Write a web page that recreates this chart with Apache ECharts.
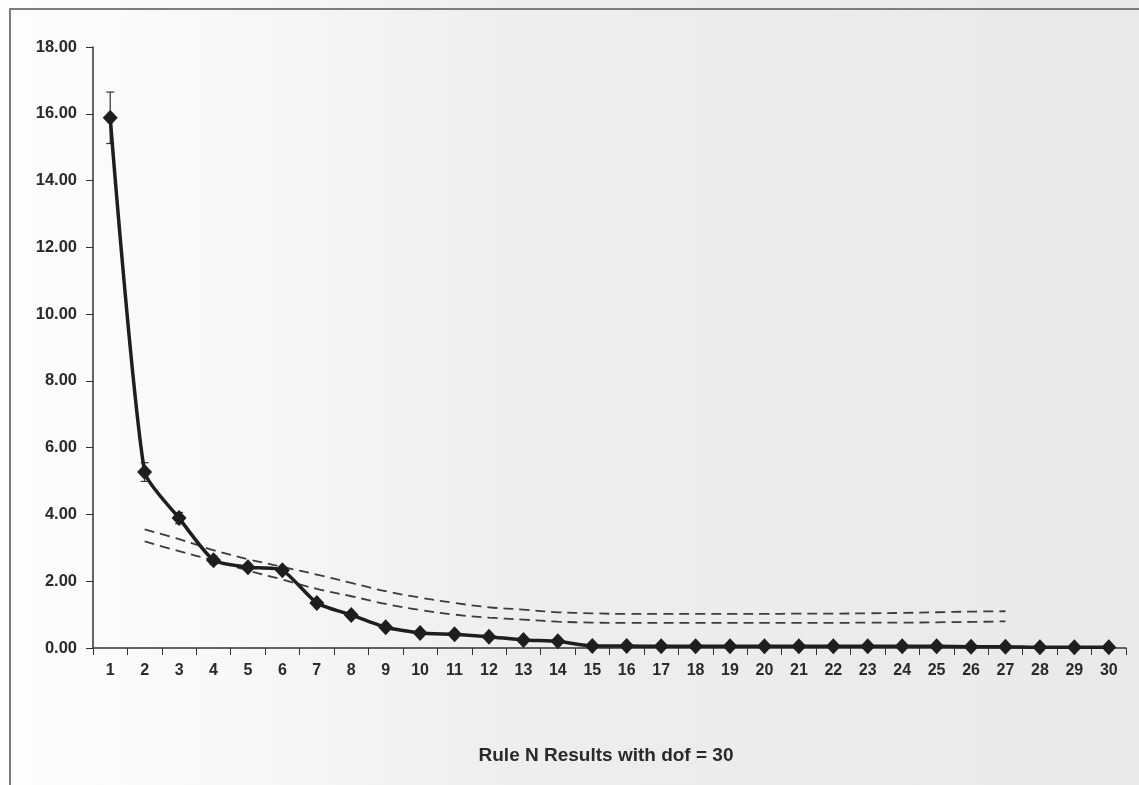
<!DOCTYPE html>
<html>
<head>
<meta charset="utf-8">
<script src="https://cdn.jsdelivr.net/npm/echarts@6/dist/echarts.min.js"></script>
<style>
html,body{margin:0;padding:0;background:#f2f2f2;}
#chart{width:1139px;height:785px;}
</style>
</head>
<body>
<div id="chart"></div>
<script>
// Data
const categories = ['1','2','3','4','5','6','7','8','9','10','11','12','13','14','15','16','17','18','19','20','21','22','23','24','25','26','27','28','29','30'];
const eigenValues = [15.88, 5.27, 3.89, 2.63, 2.42, 2.33, 1.35, 0.99, 0.62, 0.45, 0.41, 0.34, 0.24, 0.2, 0.06, 0.06, 0.05, 0.05, 0.05, 0.05, 0.05, 0.05, 0.05, 0.05, 0.05, 0.04, 0.04, 0.02, 0.02, 0.02];
const errorValues = [0.77, 0.28, 0.17, 0.12, 0.1, 0.1, 0.08, 0.07, 0.05, 0.04, 0.04, 0.04, 0.03, 0.03, 0.02, 0.02, 0.02, 0.02, 0.02, 0.02, 0.02, 0.02, 0.02, 0.02, 0.02, 0.02, 0.02, 0.02, 0.02, 0.02];
const ruleNUpper = [null, 3.55, 3.26, 2.93, 2.66, 2.43, 2.2, 1.95, 1.7, 1.51, 1.35, 1.22, 1.15, 1.07, 1.04, 1.02, 1.02, 1.02, 1.02, 1.02, 1.03, 1.03, 1.04, 1.05, 1.07, 1.09, 1.1, null, null, null];
const ruleNLower = [null, 3.19, 2.9, 2.62, 2.32, 2.05, 1.77, 1.55, 1.32, 1.14, 1.0, 0.91, 0.85, 0.79, 0.76, 0.75, 0.75, 0.75, 0.75, 0.75, 0.75, 0.75, 0.76, 0.76, 0.77, 0.78, 0.8, null, null, null];
const yTicks = {min: 0, max: 18, interval: 2};
const titleText = 'Rule N Results with dof = 30';

const font = "'Liberation Sans', Arial, sans-serif";
const chart = echarts.init(document.getElementById('chart'));

const errData = eigenValues.map((v, i) => [i, v - errorValues[i], v + errorValues[i]]);

chart.setOption({
  animation: false,
  backgroundColor: {
    type: 'linear', x: 0, y: 0, x2: 1, y2: 0,
    colorStops: [
      {offset: 0, color: '#fdfdfd'},
      {offset: 0.2, color: '#f8f8f8'},
      {offset: 0.45, color: '#eeeeee'},
      {offset: 1, color: '#e9e9e9'}
    ]
  },
  graphic: [{
    type: 'polyline',
    shape: {points: [[10, 790], [10, 9], [1145, 9]]},
    style: {stroke: '#7d7d7d', lineWidth: 2, fill: null},
    silent: true
  }],
  title: {
    text: titleText,
    left: 601, top: 741, textAlign: 'center',
    textStyle: {fontFamily: font, fontSize: 19, fontWeight: 'bold', color: '#2a2a2a'}
  },
  grid: {left: 93, right: 13, top: 47, bottom: 137, containLabel: false},
  xAxis: {
    type: 'category',
    data: categories,
    boundaryGap: true,
    axisLine: {lineStyle: {color: '#333', width: 1.5}},
    axisTick: {show: true, length: 7, interval: 0, lineStyle: {color: '#333', width: 1}},
    axisLabel: {interval: 0, margin: 15, fontFamily: font, fontSize: 16, fontWeight: 'bold', color: '#2a2a2a'},
    splitLine: {show: false}
  },
  yAxis: {
    type: 'value',
    min: yTicks.min, max: yTicks.max, interval: yTicks.interval,
    axisLine: {show: true, lineStyle: {color: '#333', width: 1.5}},
    axisTick: {show: true, length: 7, lineStyle: {color: '#333', width: 1}},
    axisLabel: {formatter: v => v.toFixed(2), margin: 16, fontFamily: font, fontSize: 16.5, fontWeight: 'bold', color: '#2a2a2a'},
    splitLine: {show: false}
  },
  series: [
    {
      name: 'Rule N upper',
      type: 'line',
      data: ruleNUpper,
      smooth: 0.4,
      showSymbol: false,
      symbol: 'none',
      lineStyle: {color: '#3c3c3c', width: 1.8, type: [10, 6]},
      z: 2
    },
    {
      name: 'Rule N lower',
      type: 'line',
      data: ruleNLower,
      smooth: 0.4,
      showSymbol: false,
      symbol: 'none',
      lineStyle: {color: '#3c3c3c', width: 1.8, type: [10, 6]},
      z: 2
    },
    {
      name: 'Eigenvalues',
      type: 'line',
      data: eigenValues,
      smooth: 0.2,
      symbol: 'diamond',
      symbolSize: [15, 16],
      itemStyle: {color: '#1e1e1e'},
      lineStyle: {color: '#1e1e1e', width: 3.5},
      z: 4
    },
    {
      name: 'Error',
      type: 'custom',
      data: errData,
      z: 3,
      renderItem: function (params, api) {
        const x = api.value(0);
        const lo = api.coord([x, api.value(1)]);
        const hi = api.coord([x, api.value(2)]);
        const hw = 4;
        return {
          type: 'group',
          children: [
            {type: 'line', shape: {x1: lo[0], y1: lo[1], x2: hi[0], y2: hi[1]}, style: {stroke: '#333', lineWidth: 1.2}},
            {type: 'line', shape: {x1: hi[0] - hw, y1: hi[1], x2: hi[0] + hw, y2: hi[1]}, style: {stroke: '#333', lineWidth: 1.2}},
            {type: 'line', shape: {x1: lo[0] - hw, y1: lo[1], x2: lo[0] + hw, y2: lo[1]}, style: {stroke: '#333', lineWidth: 1.2}}
          ]
        };
      }
    }
  ]
});
</script>
</body>
</html>
